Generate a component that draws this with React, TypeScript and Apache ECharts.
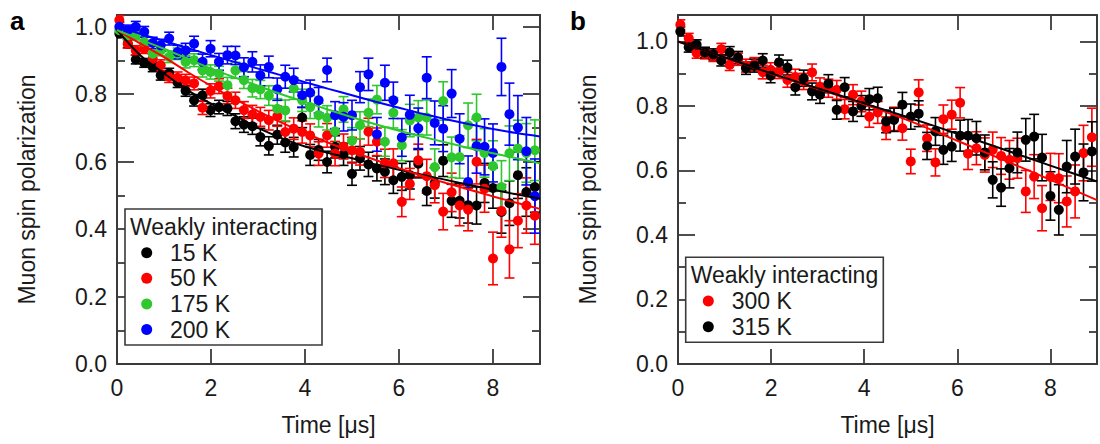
import React, { useEffect, useRef } from "react";
import * as echarts from "echarts";

// ---------- data ----------
const TIMES = [
  0.05, 0.23, 0.40, 0.58, 0.76, 0.93, 1.11, 1.29, 1.46, 1.64,
  1.82, 1.99, 2.17, 2.35, 2.52, 2.70, 2.88, 3.05, 3.23, 3.41,
  3.58, 3.76, 3.94, 4.11, 4.29, 4.47, 4.64, 4.82, 5.00, 5.17,
  5.35, 5.53, 5.70, 5.88, 6.06, 6.23, 6.41, 6.59, 6.76, 6.94,
  7.12, 7.29, 7.47, 7.65, 7.82, 8.00, 8.18, 8.35, 8.53, 8.71, 8.89,
];

const X_TICKS = [0, 2, 4, 6, 8];
const Y_TICKS = [0.0, 0.2, 0.4, 0.6, 0.8, 1.0];

// panel a
const A_LABELS = ["15 K", "50 K", "175 K", "200 K"];
const A_COLORS = ["#000000", "#ff0000", "#2ec82e", "#0000ff"];

const A_15K = [
  0.98, 0.95, 0.903, 0.893, 0.881, 0.856, 0.862, 0.835, 0.81, 0.782,
  0.797, 0.753, 0.762, 0.758, 0.72, 0.71, 0.705, 0.673, 0.647, 0.68,
  0.657, 0.643, 0.731, 0.62, 0.635, 0.599, 0.644, 0.622, 0.564, 0.61,
  0.592, 0.58, 0.57, 0.545, 0.555, 0.56, 0.594, 0.513, 0.537, 0.603,
  0.484, 0.484, 0.471, 0.47, 0.537, 0.522, 0.451, 0.477, 0.56, 0.51, 0.525,
];
const A_15K_ERR = [
  0.012, 0.012, 0.013, 0.013, 0.014, 0.014, 0.015, 0.015, 0.016, 0.017,
  0.018, 0.019, 0.020, 0.021, 0.022, 0.023, 0.024, 0.026, 0.027, 0.028,
  0.029, 0.029, 0.030, 0.031, 0.031, 0.032, 0.033, 0.033, 0.034, 0.035,
  0.036, 0.037, 0.038, 0.039, 0.040, 0.041, 0.042, 0.043, 0.045, 0.047,
  0.049, 0.051, 0.053, 0.055, 0.058, 0.060, 0.063, 0.066, 0.069, 0.072, 0.075,
];
const A_50K = [
  1.02, 0.95, 0.93, 0.935, 0.905, 0.886, 0.851, 0.849, 0.841, 0.832,
  0.76, 0.81, 0.824, 0.795, 0.782, 0.753, 0.74, 0.733, 0.723, 0.735,
  0.688, 0.698, 0.688, 0.678, 0.624, 0.678, 0.624, 0.645, 0.634, 0.629,
  0.689, 0.659, 0.595, 0.595, 0.481, 0.534, 0.604, 0.557, 0.53, 0.452,
  0.509, 0.47, 0.458, 0.60, 0.52, 0.313, 0.454, 0.34, 0.425, 0.47, 0.44,
];
const A_50K_ERR = [
  0.013, 0.013, 0.014, 0.014, 0.015, 0.016, 0.016, 0.017, 0.018, 0.019,
  0.020, 0.021, 0.022, 0.023, 0.024, 0.025, 0.027, 0.028, 0.029, 0.030,
  0.031, 0.032, 0.033, 0.034, 0.035, 0.035, 0.036, 0.037, 0.038, 0.039,
  0.040, 0.041, 0.042, 0.043, 0.044, 0.046, 0.048, 0.050, 0.052, 0.054,
  0.057, 0.060, 0.063, 0.066, 0.070, 0.078, 0.078, 0.085, 0.080, 0.082, 0.085,
];
const A_175K = [
  0.99, 0.975, 0.975, 0.955, 0.92, 0.93, 0.911, 0.92, 0.896, 0.901,
  0.871, 0.866, 0.861, 0.827, 0.871, 0.842, 0.818, 0.814, 0.796, 0.757,
  0.752, 0.817, 0.782, 0.762, 0.738, 0.73, 0.69, 0.755, 0.662, 0.708,
  0.745, 0.784, 0.659, 0.745, 0.649, 0.722, 0.731, 0.731, 0.584, 0.78,
  0.613, 0.614, 0.708, 0.731, 0.626, 0.587, 0.525, 0.625, 0.639, 0.626, 0.634,
];
const A_175K_ERR = [
  0.013, 0.013, 0.014, 0.015, 0.015, 0.016, 0.017, 0.017, 0.018, 0.019,
  0.020, 0.021, 0.022, 0.023, 0.024, 0.025, 0.026, 0.027, 0.029, 0.030,
  0.031, 0.032, 0.033, 0.034, 0.035, 0.036, 0.037, 0.038, 0.039, 0.040,
  0.041, 0.042, 0.043, 0.045, 0.046, 0.048, 0.050, 0.052, 0.054, 0.057,
  0.060, 0.063, 0.066, 0.069, 0.072, 0.075, 0.078, 0.081, 0.084, 0.087, 0.090,
];
const A_200K = [
  1.0, 0.99, 1.0, 0.985, 0.952, 0.945, 0.965, 0.925, 0.93, 0.95,
  0.896, 0.935, 0.896, 0.916, 0.915, 0.88, 0.896, 0.856, 0.881, 0.815,
  0.852, 0.842, 0.797, 0.805, 0.782, 0.872, 0.738, 0.733, 0.738, 0.821,
  0.859, 0.681, 0.834, 0.782, 0.672, 0.739, 0.699, 0.849, 0.715, 0.698,
  0.802, 0.668, 0.54, 0.646, 0.644, 0.626, 0.881, 0.741, 0.701, 0.631, 0.498,
];
const A_200K_ERR = [
  0.014, 0.015, 0.016, 0.016, 0.017, 0.018, 0.019, 0.020, 0.021, 0.022,
  0.023, 0.024, 0.025, 0.026, 0.027, 0.028, 0.030, 0.031, 0.032, 0.033,
  0.034, 0.035, 0.036, 0.037, 0.038, 0.035, 0.040, 0.042, 0.044, 0.046,
  0.048, 0.050, 0.052, 0.054, 0.056, 0.058, 0.060, 0.062, 0.065, 0.068,
  0.071, 0.074, 0.077, 0.080, 0.083, 0.086, 0.085, 0.092, 0.095, 0.100, 0.110,
];

const FIT_T_A = [0, 0.5, 1, 1.5, 2, 2.5, 3, 3.5, 4, 4.5, 5, 5.5, 6, 6.5, 7, 7.5, 8, 8.5, 9];
const FIT_A_15K = [0.99, 0.915, 0.862, 0.812, 0.772, 0.737, 0.700, 0.670, 0.645, 0.626, 0.610, 0.592, 0.576, 0.561, 0.546, 0.531, 0.517, 0.503, 0.490];
const FIT_A_50K = [0.99, 0.95, 0.91, 0.866, 0.825, 0.786, 0.750, 0.716, 0.685, 0.656, 0.630, 0.605, 0.581, 0.558, 0.537, 0.517, 0.497, 0.478, 0.46];
const FIT_A_175K = [0.99, 0.962, 0.935, 0.905, 0.876, 0.850, 0.825, 0.800, 0.777, 0.754, 0.732, 0.711, 0.692, 0.674, 0.657, 0.640, 0.625, 0.610, 0.595];
const FIT_A_200K = [1.0, 0.979, 0.958, 0.937, 0.916, 0.896, 0.876, 0.856, 0.836, 0.816, 0.797, 0.778, 0.760, 0.742, 0.726, 0.711, 0.697, 0.685, 0.675];

// panel b
const B_LABELS = ["300 K", "315 K"];
const B_COLORS = ["#ff0000", "#000000"];
const B_300K = [
  1.052, 1.01, 0.964, 0.962, 0.955, 0.976, 0.928, 0.945, 0.925, 0.93,
  0.905, 0.912, 0.907, 0.881, 0.89, 0.876, 0.904, 0.86, 0.855, 0.85,
  0.79, 0.835, 0.814, 0.767, 0.78, 0.731, 0.76, 0.731, 0.628, 0.842,
  0.70, 0.625, 0.759, 0.773, 0.81, 0.652, 0.669, 0.648, 0.664, 0.645,
  0.633, 0.638, 0.535, 0.581, 0.483, 0.58, 0.576, 0.504, 0.535, 0.654, 0.703,
];
const B_300K_ERR = [
  0.015, 0.015, 0.016, 0.016, 0.017, 0.018, 0.018, 0.019, 0.020, 0.020,
  0.021, 0.022, 0.022, 0.023, 0.024, 0.025, 0.026, 0.027, 0.028, 0.029,
  0.030, 0.031, 0.032, 0.033, 0.034, 0.035, 0.036, 0.037, 0.038, 0.039,
  0.041, 0.042, 0.044, 0.045, 0.047, 0.049, 0.051, 0.053, 0.055, 0.057,
  0.060, 0.062, 0.065, 0.068, 0.070, 0.073, 0.076, 0.079, 0.082, 0.086, 0.090,
];
const B_315K = [
  1.031, 0.982, 0.99, 0.966, 0.96, 0.941, 0.966, 0.95, 0.917, 0.925,
  0.941, 0.894, 0.935, 0.919, 0.858, 0.886, 0.845, 0.835, 0.869, 0.788,
  0.858, 0.783, 0.80, 0.821, 0.824, 0.752, 0.757, 0.804, 0.767, 0.776,
  0.676, 0.721, 0.664, 0.674, 0.708, 0.708, 0.70, 0.656, 0.571, 0.547,
  0.607, 0.656, 0.695, 0.705, 0.64, 0.521, 0.478, 0.612, 0.643, 0.594, 0.659,
];
const B_315K_ERR = [
  0.014, 0.015, 0.015, 0.016, 0.017, 0.017, 0.018, 0.019, 0.019, 0.020,
  0.021, 0.022, 0.023, 0.023, 0.024, 0.025, 0.026, 0.027, 0.028, 0.029,
  0.030, 0.031, 0.032, 0.033, 0.034, 0.035, 0.036, 0.038, 0.039, 0.040,
  0.042, 0.043, 0.045, 0.046, 0.048, 0.050, 0.052, 0.054, 0.056, 0.058,
  0.061, 0.063, 0.066, 0.069, 0.072, 0.075, 0.078, 0.081, 0.085, 0.088, 0.092,
];

const FIT_T_B = [0, 1, 2, 3, 4, 5, 6, 7, 8, 9];
const FIT_B_300K = [1.0, 0.951, 0.90, 0.853, 0.805, 0.752, 0.692, 0.632, 0.571, 0.508];
const FIT_B_315K = [1.0, 0.951, 0.901, 0.855, 0.808, 0.762, 0.714, 0.665, 0.615, 0.566];

// ---------- styling ----------
const FONT = "'Liberation Sans', Arial, Helvetica, sans-serif";
const AX = "#3a3a3a";
const TXT = "#1a1a1a";
const FS = 23;

function near(list: number[], v: number) {
  return list.some((t) => Math.abs(t - v) < 1e-6);
}

function xAxes(gi: number) {
  const base = {
    type: "value",
    gridIndex: gi,
    min: 0,
    max: 9,
    interval: 2,
    splitLine: { show: false },
    axisLine: { show: true, onZero: false, lineStyle: { color: AX, width: 2 } },
    axisTick: { show: true, inside: true, length: 15, lineStyle: { color: AX, width: 1.8 } },
  };
  return [
    {
      ...base,
      position: "bottom",
      axisLabel: {
        margin: 12,
        fontSize: FS,
        color: TXT,
        fontFamily: FONT,
        formatter: (v: number) => (near(X_TICKS, v) ? String(Math.round(v)) : ""),
      },
      name: "Time [\u03bcs]",
      nameLocation: "middle",
      nameGap: 49,
      nameTextStyle: { fontSize: FS, color: TXT, fontFamily: FONT },
    },
    { ...base, position: "top", axisLabel: { show: false } },
  ];
}

function yAxes(gi: number, ymax: number) {
  const base = {
    type: "value",
    gridIndex: gi,
    min: 0,
    max: ymax,
    interval: 0.2,
    splitLine: { show: false },
    axisLine: { show: true, onZero: false, lineStyle: { color: AX, width: 2 } },
    axisTick: { show: true, inside: true, length: 17, lineStyle: { color: AX, width: 1.8 } },
    minorTick: { show: true, splitNumber: 2, length: 8, lineStyle: { color: AX, width: 1.8 } },
    minorSplitLine: { show: false },
  };
  return [
    {
      ...base,
      position: "left",
      axisLabel: {
        margin: 10,
        fontSize: FS,
        color: TXT,
        fontFamily: FONT,
        formatter: (v: number) => (near(Y_TICKS, v) ? v.toFixed(1) : ""),
      },
      name: "Muon spin polarization",
      nameLocation: "middle",
      nameGap: 79,
      nameTextStyle: { fontSize: FS, color: TXT, fontFamily: FONT },
    },
    { ...base, position: "right", axisLabel: { show: false } },
  ];
}

function errSeries(axis: number, vals: number[], errs: number[], color: string) {
  return {
    type: "custom",
    xAxisIndex: axis,
    yAxisIndex: axis,
    clip: true,
    silent: true,
    z: 2,
    data: TIMES.map((t, i) => [t, vals[i], errs[i]]),
    encode: { x: 0, y: 1 },
    renderItem: (params: any, api: any) => {
      const x = api.value(0);
      const y = api.value(1);
      const e = api.value(2);
      const top = api.coord([x, y + e]);
      const bot = api.coord([x, y - e]);
      const h = 5;
      const style = { stroke: color, lineWidth: 1.6, fill: "none" };
      return {
        type: "group",
        children: [
          { type: "line", shape: { x1: top[0], y1: top[1], x2: bot[0], y2: bot[1] }, style },
          { type: "line", shape: { x1: top[0] - h, y1: top[1], x2: top[0] + h, y2: top[1] }, style },
          { type: "line", shape: { x1: bot[0] - h, y1: bot[1], x2: bot[0] + h, y2: bot[1] }, style },
        ],
      };
    },
  };
}

function ptSeries(axis: number, name: string, vals: number[], color: string) {
  return {
    type: "scatter",
    name,
    xAxisIndex: axis,
    yAxisIndex: axis,
    symbol: "circle",
    symbolSize: 10,
    z: 3,
    itemStyle: { color, opacity: 1 },
    data: TIMES.map((t, i) => [t, vals[i]]),
  };
}

function fitSeries(axis: number, ts: number[], vals: number[], color: string) {
  return {
    type: "line",
    xAxisIndex: axis,
    yAxisIndex: axis,
    showSymbol: false,
    smooth: 0.3,
    z: 4,
    silent: true,
    lineStyle: { color, width: 2 },
    data: ts.map((t, i) => [t, vals[i]]),
  };
}

function legendGraphic(
  box: { x: number; y: number; w: number; h: number },
  titleY: number,
  textX: number,
  dotX: number,
  rowYs: number[],
  labels: string[],
  colors: string[]
) {
  const els: any[] = [
    {
      type: "rect",
      shape: { x: box.x, y: box.y, width: box.w, height: box.h },
      style: { fill: "#ffffff", stroke: AX, lineWidth: 1.6 },
      z: 100,
    },
    {
      type: "text",
      x: box.x + 5,
      y: titleY,
      style: { text: "Weakly interacting", font: `${FS}px ${FONT}`, fill: TXT, verticalAlign: "middle", align: "left" },
      z: 101,
    },
  ];
  labels.forEach((lab, i) => {
    els.push({
      type: "circle",
      shape: { cx: dotX, cy: rowYs[i], r: 5.5 },
      style: { fill: colors[i] },
      z: 101,
    });
    els.push({
      type: "text",
      x: textX,
      y: rowYs[i],
      style: { text: lab, font: `${FS}px ${FONT}`, fill: TXT, verticalAlign: "middle", align: "left" },
      z: 101,
    });
  });
  return els;
}

export default function App() {
  const ref = useRef<HTMLDivElement>(null);

  useEffect(() => {
    if (!ref.current) return;
    const chart = echarts.init(ref.current, undefined, { renderer: "svg" });

    const aVals = [A_15K, A_50K, A_175K, A_200K];
    const aErrs = [A_15K_ERR, A_50K_ERR, A_175K_ERR, A_200K_ERR];
    const aFits = [FIT_A_15K, FIT_A_50K, FIT_A_175K, FIT_A_200K];
    const bVals = [B_300K, B_315K];
    const bErrs = [B_300K_ERR, B_315K_ERR];
    const bFits = [FIT_B_300K, FIT_B_315K];

    const series: any[] = [];
    aVals.forEach((v, i) => {
      series.push(errSeries(0, v, aErrs[i], A_COLORS[i]));
      series.push(ptSeries(0, A_LABELS[i], v, A_COLORS[i]));
    });
    aFits.forEach((f, i) => series.push(fitSeries(0, FIT_T_A, f, A_COLORS[i])));
    bVals.forEach((v, i) => {
      series.push(errSeries(2, v, bErrs[i], B_COLORS[i]));
      series.push(ptSeries(2, B_LABELS[i], v, B_COLORS[i]));
    });
    bFits.forEach((f, i) => series.push(fitSeries(2, FIT_T_B, f, B_COLORS[i])));

    const graphics = [
      {
        type: "text",
        x: 10,
        y: 8,
        style: { text: "a", font: `bold 26px ${FONT}`, fill: "#000" },
      },
      {
        type: "text",
        x: 570,
        y: 8,
        style: { text: "b", font: `bold 26px ${FONT}`, fill: "#000" },
      },
      ...legendGraphic(
        { x: 125, y: 209, w: 197, h: 136 },
        226.7,
        170,
        146.7,
        [252.7, 278.3, 304, 329.5],
        A_LABELS,
        A_COLORS
      ),
      ...legendGraphic(
        { x: 685.7, y: 257.3, w: 197.6, h: 85 },
        275,
        731.7,
        708.3,
        [301, 326.7],
        B_LABELS,
        B_COLORS
      ),
    ];

    const option: any = {
      animation: false,
      backgroundColor: "#ffffff",
      textStyle: { fontFamily: FONT },
      grid: [
        { left: 117, top: 15, width: 423, height: 349 },
        { left: 678, top: 15, width: 423, height: 349 },
      ],
      xAxis: [...xAxes(0), ...xAxes(1)],
      yAxis: [...yAxes(0, 1.035), ...yAxes(1, 1.082)],
      series,
      graphic: graphics,
    };
    chart.setOption(option);
    return () => chart.dispose();
  }, []);

  return (
    <div
      ref={ref}
      style={{ position: "fixed", left: 0, top: 0, width: 1100, height: 444, background: "#fff" }}
    />
  );
}
